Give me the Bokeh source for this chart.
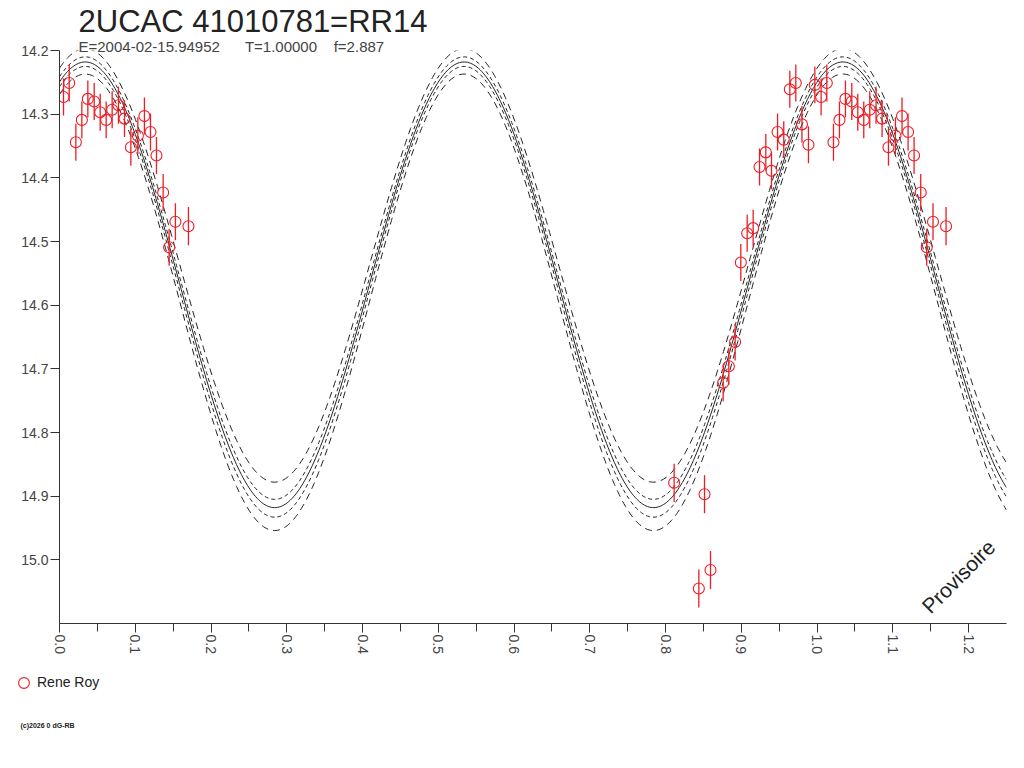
import math
import numpy as np
from bokeh.plotting import figure
from bokeh.layouts import column
from bokeh.models import (Range1d, SingleIntervalTicker, PrintfTickFormatter, Label, Title,
                          Legend, LegendItem, ColumnDataSource)
from bokeh.embed import file_html
from bokeh.resources import INLINE

# ---------------- texts ----------------
TITLE = "2UCAC 41010781=RR14"
SUB_EPOCH = "E=2004-02-15.94952"
SUB_PERIOD = "T=1.00000"
SUB_FREQ = "f=2.887"
OBSERVER = "Rene Roy"
WATERMARK = "Provisoire"
COPYRIGHT = "(c)2026 0 dG-RB"

# ---------------- observations (phase, magnitude, error) ----------------
obs_phase = [0.0053, 0.0128, 0.0216, 0.0295, 0.0374, 0.0458, 0.0537, 0.0616, 0.0695, 0.0778,
             0.0858, 0.0942, 0.1034, 0.1121, 0.1201, 0.1280, 0.1368, 0.1447, 0.1530, 0.1702,
             0.8113, 0.8439, 0.8514, 0.8593, 0.8760, 0.8835, 0.8918, 0.8993, 0.9077, 0.9156,
             0.9240, 0.9323, 0.9398, 0.9478, 0.9560, 0.9640, 0.9719, 0.9800, 0.9886, 0.9970]
obs_mag = [14.273, 14.251, 14.344, 14.309, 14.276, 14.280, 14.297, 14.309, 14.293, 14.286,
           14.307, 14.352, 14.334, 14.303, 14.328, 14.365, 14.423, 14.509, 14.469, 14.476,
           14.879, 15.045, 14.897, 15.016, 14.722, 14.696, 14.658, 14.533, 14.487, 14.479,
           14.383, 14.360, 14.389, 14.328, 14.340, 14.261, 14.251, 14.316, 14.348, 14.254]
obs_err = [0.029, 0.029, 0.029, 0.029, 0.029, 0.029, 0.029, 0.029, 0.029, 0.029,
           0.029, 0.029, 0.029, 0.029, 0.029, 0.029, 0.029, 0.029, 0.029, 0.030,
           0.030, 0.030, 0.030, 0.030, 0.029, 0.029, 0.029, 0.029, 0.029, 0.029,
           0.029, 0.029, 0.029, 0.029, 0.029, 0.029, 0.029, 0.029, 0.029, 0.029]

# ---------------- fitted light-curve model ----------------
model_phase_of_max = 0.034      # phase of maximum brightness
model_wave_period = 0.5         # double wave in phase
model_mag_max = [14.197, 14.210, 14.218, 14.225, 14.237]
model_mag_min = [14.878, 14.905, 14.918, 14.933, 14.954]
model_dash = ["7 5", "4 3", "solid", "4 3", "7 5"]

PHASE_RANGE = (0.0, 1.25)
MAG_RANGE = (14.2, 15.1)

FONT = "Liberation Sans"
AX = "#333333"
RED = "#ee1c25"

# ---------------- main figure ----------------
W = 1016
BORDER_L, BORDER_R, BORDER_T, BORDER_B = 59, 10, 50, 40
FRAME_H = 573
H = BORDER_T + FRAME_H + BORDER_B
p = figure(width=W, height=H, output_backend="svg", toolbar_location=None, title=None,
           x_range=Range1d(*PHASE_RANGE), y_range=Range1d(MAG_RANGE[1], MAG_RANGE[0]),
           min_border_left=BORDER_L, min_border_right=BORDER_R,
           min_border_top=BORDER_T, min_border_bottom=BORDER_B,
           background_fill_color="white", border_fill_color="white")
p.frame_align = False
p.outline_line_color = None
p.xgrid.visible = False
p.ygrid.visible = False

p.xaxis.ticker = SingleIntervalTicker(interval=0.1, num_minor_ticks=2)
p.xaxis.formatter = PrintfTickFormatter(format="%.1f")
p.xaxis.major_label_orientation = -math.pi / 2
p.yaxis.ticker = SingleIntervalTicker(interval=0.1, num_minor_ticks=0)
p.yaxis.formatter = PrintfTickFormatter(format="%.1f")
for ax in (p.xaxis, p.yaxis):
    ax.axis_line_color = AX
    ax.major_tick_line_color = AX
    ax.minor_tick_line_color = AX
    ax.major_tick_in = 0
    ax.major_tick_out = 9
    ax.minor_tick_in = 0
    ax.minor_tick_out = 8
    ax.major_label_text_font = FONT
    ax.major_label_text_font_size = "14px"
    ax.major_label_text_color = "#444444"
    ax.major_label_standoff = 2

# titles in the panel above the frame (first added sits next to the frame)
NB = "\u00a0"
p.add_layout(Title(text=SUB_EPOCH + NB * 6 + SUB_PERIOD + NB * 4 + SUB_FREQ, align="left",
                   offset=19, standoff=-8, text_font=FONT, text_font_size="15px",
                   text_font_style="normal", text_color="#444444"), "above")
p.add_layout(Title(text=TITLE, align="left", offset=19, standoff=1, text_font=FONT,
                   text_font_size="31px", text_font_style="normal", text_color="#222222"),
             "above")

# model curves
xs = np.linspace(PHASE_RANGE[0], PHASE_RANGE[1], 600)
for mmax, mmin, dash in zip(model_mag_max, model_mag_min, model_dash):
    mid = (mmax + mmin) / 2.0
    amp = (mmin - mmax) / 2.0
    ys = mid - amp * np.cos(2 * np.pi * (xs - model_phase_of_max) / model_wave_period)
    p.line(xs, ys, line_color="#222222", line_width=1, line_dash=dash)

# observations, repeated one cycle later inside the displayed phase range
ph = np.array(obs_phase)
mg = np.array(obs_mag)
er = np.array(obs_err)
rep = ph + 1.0 <= PHASE_RANGE[1]
all_ph = np.concatenate([ph, ph[rep] + 1.0])
all_mg = np.concatenate([mg, mg[rep]])
all_er = np.concatenate([er, er[rep]])
src = ColumnDataSource(dict(x=all_ph, y=all_mg, lo=all_mg - all_er, hi=all_mg + all_er))

p.segment(x0="x", y0="lo", x1="x", y1="hi", source=src, line_color=RED, line_width=1.3)
p.scatter("x", "y", source=src, marker="circle", size=11, fill_color=None,
          line_color=RED, line_width=1.1)

# watermark (screen units: x from frame left, y up from frame bottom)
p.add_layout(Label(x=958 - BORDER_L, y=(BORDER_T + FRAME_H) - 576, x_units="screen",
                   y_units="screen", text=WATERMARK, angle=math.pi / 4,
                   text_align="center", text_baseline="middle",
                   text_font=FONT, text_font_size="21px", text_color="#222222"))

# ---------------- footer strip: legend and copyright ----------------
FH = 760 - H
f = figure(width=W, height=FH, output_backend="svg", toolbar_location=None,
           x_range=Range1d(0, W), y_range=Range1d(FH, 0),
           min_border_left=0, min_border_right=0, min_border_top=0, min_border_bottom=0,
           x_axis_type=None, y_axis_type=None,
           background_fill_color="white", border_fill_color="white")
f.frame_align = False
f.outline_line_color = None
f.xgrid.visible = False
f.ygrid.visible = False
# legend key: same glyph style as the observations (renderer itself hidden in this strip)
key = f.scatter("x", "y", source=src, marker="circle", size=11, fill_color=None,
                line_color=RED, line_width=1.1, visible=False)
LEG_H = 27
legend = Legend(items=[LegendItem(label=OBSERVER, renderers=[key])],
                location=(10, FH - (682 - H) - LEG_H / 2), orientation="vertical",
                border_line_color=None, background_fill_alpha=0, inactive_fill_alpha=0,
                padding=0, margin=0, spacing=0, glyph_width=LEG_H, glyph_height=LEG_H,
                label_standoff=-1, label_text_font=FONT, label_text_font_size="14px",
                label_text_color="#222222")
f.add_layout(legend, "center")
f.add_layout(Label(x=20, y=725 - H, text=COPYRIGHT, text_font=FONT, text_font_size="7px",
                   text_font_style="bold", text_color="#222222", text_baseline="middle"))

open("out.html", "w").write(file_html(column(p, f, spacing=0), INLINE))
